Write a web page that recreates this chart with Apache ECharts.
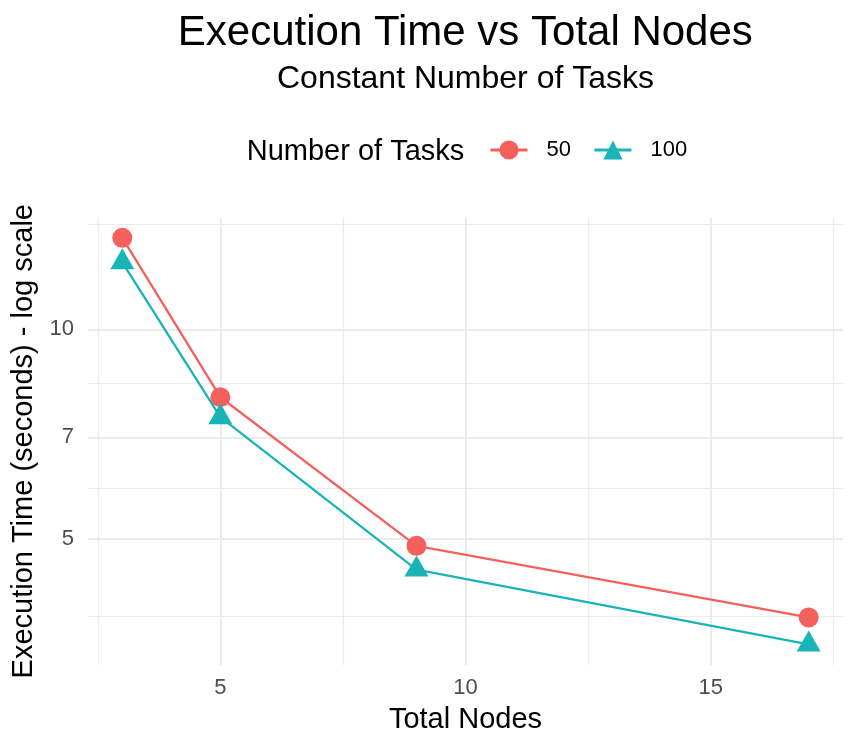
<!DOCTYPE html>
<html>
<head>
<meta charset="utf-8">
<script src="https://cdn.jsdelivr.net/npm/echarts@6/dist/echarts.min.js"></script>
<style>
  html, body { margin: 0; padding: 0; background: #fff; }
  #chart { width: 858px; height: 750px; }
</style>
</head>
<body>
<div id="chart"></div>
<script>
// ---- data ----
const nodes = [3, 5, 9, 17];
const seriesNames = ['50', '100'];
const time50 = [13.53, 7.99, 4.89, 3.86];
const time100 = [12.48, 7.48, 4.52, 3.53];
const xTickValues = [5, 10, 15];
const xMinorValues = [2.5, 7.5, 12.5, 17.5];
const yTickValues = [5, 7, 10];
const yMinorValues = [3.873, 5.916, 8.367, 14.142];

const titleText = 'Execution Time vs Total Nodes';
const subtitleText = 'Constant Number of Tasks';
const legendTitle = 'Number of Tasks';
const xTitle = 'Total Nodes';
const yTitle = 'Execution Time (seconds) - log scale';

const FONT = '"Liberation Sans", Arial, Helvetica, sans-serif';
const RED = '#F4615C';
const TEAL = '#19B4B8';
const GRID = '#EBEBEB';

const xMin = 2.3, xMax = 17.7;
const yMin = 3.298, yMax = 14.47;

const chart = echarts.init(document.getElementById('chart'), null, { renderer: 'canvas' });

const pairs = (vals) => nodes.map((n, i) => [n, vals[i]]);

const option = {
  animation: false,
  backgroundColor: '#ffffff',
  textStyle: { fontFamily: FONT },
  grid: { left: 88, right: 15, top: 217.5, bottom: 85, containLabel: false },
  graphic: [
    { type: 'text', x: 465.3, y: 33, style: { text: titleText, font: '42px ' + FONT, fill: '#000', align: 'center', verticalAlign: 'middle' } },
    { type: 'text', x: 465.5, y: 79.5, style: { text: subtitleText, font: '32px ' + FONT, fill: '#000', align: 'center', verticalAlign: 'middle' } },
    { type: 'text', x: 246.7, y: 151.5, style: { text: legendTitle, font: '29px ' + FONT, fill: '#000', align: 'left', verticalAlign: 'middle' } }
  ],
  legend: {
    left: 489,
    top: 139,
    padding: 0,
    itemWidth: 37,
    itemHeight: 24,
    itemGap: 22,
    data: seriesNames,
    lineStyle: { width: 3 },
    textStyle: { fontSize: 22, color: '#000', fontFamily: FONT, padding: [0, 0, 0, 14] }
  },
  xAxis: [
    {
      type: 'value', min: xMin, max: xMax,
      name: xTitle, nameLocation: 'middle', nameGap: 40,
      nameTextStyle: { fontSize: 29, color: '#000', fontFamily: FONT },
      axisLine: { show: false },
      axisTick: { show: false, customValues: xTickValues },
      axisLabel: { customValues: xTickValues, fontSize: 22, color: '#4D4D4D', margin: 12, fontFamily: FONT },
      splitLine: { show: true, lineStyle: { color: GRID, width: 2 } },
      z: 2
    },
    {
      type: 'value', min: xMin, max: xMax, position: 'bottom',
      axisLine: { show: false },
      axisTick: { show: false, customValues: xMinorValues },
      axisLabel: { show: false, customValues: xMinorValues },
      splitLine: { show: true, lineStyle: { color: GRID, width: 1.2 } },
      z: 1
    }
  ],
  yAxis: [
    {
      type: 'log', logBase: 10, min: yMin, max: yMax,
      name: yTitle, nameLocation: 'middle', nameGap: 38.5, nameRotate: 90,
      nameTextStyle: { fontSize: 29, color: '#000', fontFamily: FONT },
      axisLine: { show: false },
      axisTick: { show: false, customValues: yTickValues },
      axisLabel: { customValues: yTickValues, fontSize: 22, color: '#4D4D4D', margin: 14, fontFamily: FONT },
      splitLine: { show: true, lineStyle: { color: GRID, width: 2 } },
      z: 2
    },
    {
      type: 'log', logBase: 10, min: yMin, max: yMax, position: 'left',
      axisLine: { show: false },
      axisTick: { show: false, customValues: yMinorValues },
      axisLabel: { show: false, customValues: yMinorValues },
      splitLine: { show: true, lineStyle: { color: GRID, width: 1.2 } },
      z: 1
    }
  ],
  series: [
    {
      name: seriesNames[0], type: 'line', xAxisIndex: 0, yAxisIndex: 0,
      data: pairs(time50),
      symbol: 'circle', symbolSize: 20,
      lineStyle: { color: RED, width: 2.3 },
      itemStyle: { color: RED },
      z: 3
    },
    {
      name: seriesNames[1], type: 'line', xAxisIndex: 0, yAxisIndex: 0,
      data: pairs(time100),
      symbol: 'triangle', symbolSize: [24, 21], symbolOffset: [0, -3.5],
      lineStyle: { color: TEAL, width: 2.3 },
      itemStyle: { color: TEAL },
      z: 3
    }
  ]
};

chart.setOption(option);
</script>
</body>
</html>
